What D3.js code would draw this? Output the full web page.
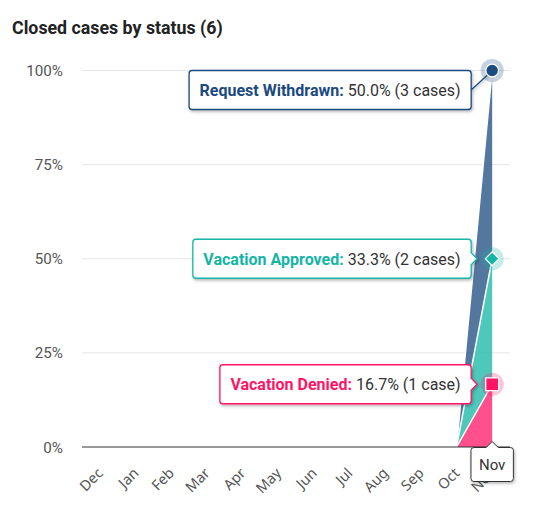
<!DOCTYPE html>
<html><head><meta charset="utf-8">
<script src="https://cdn.jsdelivr.net/npm/d3@7/dist/d3.min.js"></script>
<style>
html,body{margin:0;padding:0;background:#fff;}
svg{display:block;font-family:Roboto,"Noto Sans",sans-serif;}
</style></head>
<body>
<svg id="chart" width="533" height="522"></svg>
<script>
const title = "Closed cases by status (6)";
const months = ["Dec","Jan","Feb","Mar","Apr","May","Jun","Jul","Aug","Sep","Oct","Nov"];
const seriesNames = ["Vacation Denied","Vacation Approved","Request Withdrawn"];
const deniedCounts    = [0,0,0,0,0,0,0,0,0,0,0,1];
const approvedCounts  = [0,0,0,0,0,0,0,0,0,0,0,2];
const withdrawnCounts = [0,0,0,0,0,0,0,0,0,0,0,3];
const seriesColors = ["#ff1466","#14b5a6","#1b4a80"];
const yTicks = [0,25,50,75,100];
const hoverMonth = "Nov";

const svg = d3.select("#chart");
const plot = {left:82, right:510, top:70.5, bottom:447};

const defs = svg.append("defs");
const f = defs.append("filter").attr("id","shadow").attr("x","-20%").attr("y","-30%").attr("width","140%").attr("height","170%");
f.append("feDropShadow").attr("dx",1).attr("dy",1.5).attr("stdDeviation",1.6).attr("flood-color","#000").attr("flood-opacity",0.3);

const x = d3.scaleBand().domain(months).range([plot.left, plot.right]).padding(0);
const px = m => x(m) + x.bandwidth()/2;
const y = d3.scaleLinear().domain([0,100]).range([plot.bottom, plot.top]);

// title
svg.append("text").attr("x",12).attr("y",33.5).attr("font-size",17.8).attr("font-weight",700)
  .attr("fill","#222").text(title);

// grid
const g = svg.append("g");
g.selectAll("line.grid").data(yTicks.filter(t=>t>0)).join("line")
  .attr("x1",plot.left).attr("x2",plot.right)
  .attr("y1",d=>y(d)).attr("y2",d=>y(d))
  .attr("stroke","#e6e6e6").attr("stroke-width",1);
g.selectAll("text.yl").data(yTicks).join("text")
  .attr("x",63).attr("y",d=>y(d)+5.5).attr("text-anchor","end")
  .attr("font-size",15.2).attr("fill","#555").text(d=>d+"%");

// stacked percent data
const table = months.map((m,i)=>({month:m,
  "Vacation Denied":deniedCounts[i],
  "Vacation Approved":approvedCounts[i],
  "Request Withdrawn":withdrawnCounts[i]}));
const stack = d3.stack().keys(seriesNames)
  .value((d,k)=>{ const tot = seriesNames.reduce((s,n)=>s+d[n],0); return tot? d[k]/tot*100 : 0; });
const layers = stack(table);

const area = d3.area().x(d=>px(d.data.month)).y0(d=>y(d[0])).y1(d=>y(d[1]));
const line = d3.line().x(d=>px(d.data.month)).y(d=>y(d[1]));

const sg = svg.append("g");
layers.forEach((L,i)=>{
  sg.append("path").attr("d",area(L)).attr("fill",seriesColors[i]).attr("fill-opacity",0.75);
});
layers.forEach((L,i)=>{
  sg.append("path").attr("d",line(L)).attr("fill","none").attr("stroke","#fff").attr("stroke-width",1.5);
});

// x axis
svg.append("line").attr("x1",plot.left).attr("x2",plot.right)
  .attr("y1",plot.bottom).attr("y2",plot.bottom).attr("stroke","#333").attr("stroke-width",1);
svg.selectAll("text.xl").data(months).join("text")
  .attr("transform",d=>`translate(${px(d)+4},${plot.bottom+27}) rotate(-45)`)
  .attr("text-anchor","end").attr("font-family","'Noto Sans',sans-serif")
  .attr("font-size",14.5).attr("fill","#555").text(d=>d);

// halos
const hi = months.indexOf(hoverMonth);
const hx = px(hoverMonth);
const mg = svg.append("g");
layers.forEach((L,i)=>{
  const cy = y(L[hi][1]);
  mg.append("circle").attr("cx",hx).attr("cy",cy).attr("r",11.5).attr("fill",seriesColors[i]).attr("fill-opacity",0.25);
});

// tooltips
const tg = svg.append("g");
const boxRight = hx - 21, pad = 10.5, bh = 39, r = 3, arrow = 6, half = 6;
const order = [2,1,0];
order.forEach(i=>{
  const L = layers[i];
  const d = table[hi];
  const cnt = d[seriesNames[i]];
  const pct = L[hi][1]-L[hi][0];
  const ay = y(L[hi][1]);
  const grp = tg.append("g");
  const t = grp.append("text").attr("font-size",16);
  t.append("tspan").attr("font-weight",700).attr("fill",seriesColors[i]).text(seriesNames[i]+": ");
  t.append("tspan").attr("fill","#333").text(pct.toFixed(1)+"% ("+cnt+(cnt===1?" case)":" cases)"));
  const tw = t.node().getComputedTextLength();
  const bx = boxRight - tw - 2*pad;
  const by = Math.max(plot.top, ay - bh/2);
  let p;
  if (ay > by + r + half && ay < by + bh - r - half) {
    p = `M${bx+r},${by} H${boxRight-r} Q${boxRight},${by} ${boxRight},${by+r} V${ay-half} L${boxRight+arrow},${ay} L${boxRight},${ay+half} V${by+bh-r} Q${boxRight},${by+bh} ${boxRight-r},${by+bh} H${bx+r} Q${bx},${by+bh} ${bx},${by+bh-r} V${by+r} Q${bx},${by} ${bx+r},${by} Z`;
  } else {
    const mid = by + bh/2;
    p = `M${bx+r},${by} H${boxRight-r} Q${boxRight},${by} ${boxRight},${by+r} V${mid} L${hx-3},${ay+3} L${boxRight},${mid} V${by+bh-r} Q${boxRight},${by+bh} ${boxRight-r},${by+bh} H${bx+r} Q${bx},${by+bh} ${bx},${by+bh-r} V${by+r} Q${bx},${by} ${bx+r},${by} Z`;
  }
  grp.insert("path","text").attr("d",p).attr("fill","#fff").attr("stroke",seriesColors[i]).attr("stroke-width",1.3).attr("filter","url(#shadow)");
  t.attr("x",bx+pad).attr("y",by+bh/2+5.8);
});

// header tooltip
{
  const grp = tg.append("g");
  const t = grp.append("text").attr("font-size",15).attr("fill","#333").attr("text-anchor","middle").text(hoverMonth);
  const tw = t.node().getComputedTextLength();
  const w = tw + 16, h = 34, bx = hx - w/2, by = plot.bottom + 0.5, ty = by - arrow;
  const p = `M${bx+r},${by} H${hx-half} L${hx},${ty} L${hx+half},${by} H${bx+w-r} Q${bx+w},${by} ${bx+w},${by+r} V${by+h-r} Q${bx+w},${by+h} ${bx+w-r},${by+h} H${bx+r} Q${bx},${by+h} ${bx},${by+h-r} V${by+r} Q${bx},${by} ${bx+r},${by} Z`;
  grp.insert("path","text").attr("d",p).attr("fill","#fff").attr("stroke","#333").attr("stroke-width",1).attr("filter","url(#shadow)");
  t.attr("x",hx).attr("y",by+h/2+5.5);
}

// marker symbols on top
const shapes = [d3.symbolSquare, d3.symbolSquare, d3.symbolCircle];
const sizes = [165, 95, 125];
const rots = [0, 45, 0];
layers.forEach((L,i)=>{
  const cy = y(L[hi][1]);
  svg.append("path").attr("d",d3.symbol().type(shapes[i]).size(sizes[i])())
    .attr("transform",`translate(${hx},${cy}) rotate(${rots[i]})`)
    .attr("fill",seriesColors[i]).attr("stroke","#fff").attr("stroke-width",1.2);
});
</script>
</body></html>
